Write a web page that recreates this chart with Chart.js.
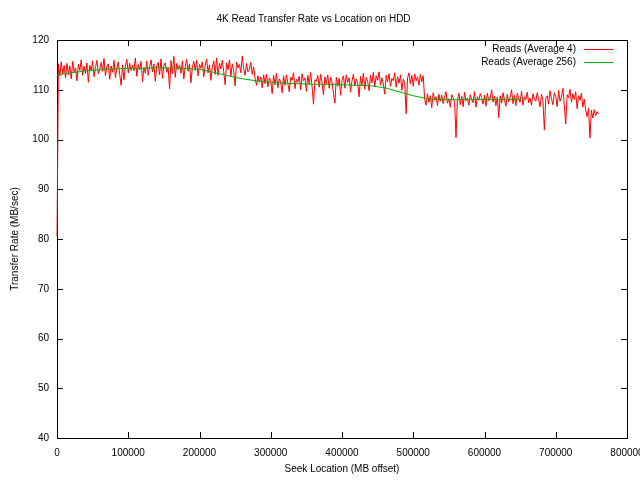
<!DOCTYPE html>
<html>
<head>
<meta charset="utf-8">
<script src="https://cdn.jsdelivr.net/npm/chart.js@4.4.1/dist/chart.umd.min.js"></script>
<style>
html, body { margin: 0; padding: 0; background: #fff; }
</style>
</head>
<body>
<canvas id="myChart" width="640" height="480"></canvas>
<script>
const chartTitle = '4K Read Transfer Rate vs Location on HDD';
const xTitle = 'Seek Location (MB offset)';
const yTitle = 'Transfer Rate (MB/sec)';
const seriesNames = ['Reads (Average 4)', 'Reads (Average 256)'];

// Average 4 samples, one every 2000 MB
const sampleStep = 2000;
const avg4Values = [
    80.5,
    115.2, 112.8, 115.6, 113.1, 114.9, 112.4, 115.3, 113.0, 114.8, 112.2,
    115.7, 113.6, 114.4, 111.8, 115.1, 113.9, 116.0, 112.9, 114.7, 113.3,
    115.4, 111.5, 114.9, 113.8, 115.8, 112.6, 114.5, 115.9, 113.2, 114.1,
    115.5, 113.7, 116.3, 112.8, 114.6, 115.2, 112.1, 114.8, 113.5, 115.9,
    112.4, 114.3, 115.6, 113.1, 110.9, 115.0, 112.0, 114.7, 116.1, 113.4,
    115.3, 113.9, 114.9, 113.8, 116.4, 112.7, 115.1, 114.0, 115.7, 111.6,
    114.5, 113.3, 115.8, 112.9, 114.6, 116.0, 113.6, 115.2, 111.7, 114.8,
    115.5, 113.0, 116.2, 112.3, 114.9, 115.4, 113.5, 114.4, 110.2, 115.9,
    113.2, 116.7, 112.5, 115.3, 114.1, 115.0, 113.3, 115.8, 112.2, 114.7,
    116.1, 113.7, 115.2, 111.4, 114.6, 115.7, 113.9, 116.0, 112.8, 115.1,
    114.3, 115.6, 112.6, 114.9, 116.2, 113.4, 115.0, 111.9, 114.5, 115.8,
    113.1, 116.4, 112.9, 115.3, 114.2, 115.9, 113.6, 111.0, 115.4, 114.0,
    116.0, 112.7, 115.2, 113.8, 110.8, 115.6, 114.4,
    115.1, 113.4, 116.8, 114.2, 112.9, 115.3, 113.6, 114.0, 115.5, 113.1,
    114.6, 112.3, 110.9, 112.8, 111.5, 112.6, 110.4, 113.0,
    111.2, 113.1, 110.6, 112.4, 111.8, 109.2, 112.9, 111.0, 113.3, 110.4,
    112.2, 111.6, 109.4, 112.8, 110.9, 113.0, 111.3, 109.6, 112.5, 111.9,
    113.4, 110.2, 112.1, 111.5, 112.7, 110.0, 113.2, 111.8, 112.4, 109.7,
    112.9, 111.1, 113.5, 110.6, 107.1, 112.0, 111.7, 112.9, 110.5, 113.1,
    111.4, 109.0, 112.6, 111.1, 113.0, 110.3, 112.5, 111.6, 109.3, 107.3,
    112.5, 110.7, 112.3, 108.9, 111.9, 112.8, 110.3, 113.0, 111.5, 112.4,
    109.5, 111.8, 113.1, 110.8, 112.2, 111.3, 108.6, 112.7, 111.0, 113.3,
    110.1, 112.5, 111.7, 109.8, 112.9, 111.4, 113.5, 110.6, 112.8, 111.9,
    113.6, 110.9, 112.4, 111.2, 109.1, 112.9, 111.6, 113.2, 110.7, 112.3,
    111.8, 113.4, 110.5, 112.6, 111.3, 113.0, 109.9, 112.1, 111.5, 105.2,
    112.4, 113.4, 111.2, 112.9, 110.7, 113.2, 111.8, 112.6, 110.9, 113.1,
    111.6, 112.8,
    108.1, 106.9, 109.2, 107.5, 108.8, 106.4, 109.4, 107.9, 108.6, 106.8,
    109.1, 107.7, 108.9, 107.2, 108.5, 109.6, 107.3, 108.2, 106.5, 109.0,
    108.4, 107.6, 100.4, 107.9, 109.3, 107.0, 108.7, 106.6, 109.5, 107.8,
    108.3, 106.9, 109.0, 108.1, 107.4, 109.6, 106.5, 108.6, 107.9, 109.2,
    108.4, 107.1, 108.9, 106.7, 109.3, 107.8, 108.2, 110.0, 107.5, 108.7,
    106.8, 108.5, 104.4, 108.8, 107.3, 109.4, 108.0, 106.7, 109.1, 107.6,
    108.5, 110.0, 107.2, 108.9, 106.8, 109.3, 108.2, 107.5, 109.7, 106.9,
    108.6, 108.0, 109.5, 107.4, 108.3, 106.9, 109.2, 108.1, 107.7, 109.4,
    108.0, 106.6, 109.1, 107.8, 101.9, 108.3, 108.8, 107.1, 109.8, 108.2,
    107.0, 109.4, 108.6, 106.6, 109.9, 107.7, 108.5, 110.3, 106.9, 103.1,
    109.0, 108.4, 110.1, 107.5, 109.2, 108.0, 109.6, 106.2, 108.8, 107.9,
    109.3, 106.5, 108.1, 105.9, 104.6, 106.3,
    100.3, 105.9, 104.3, 106.0, 104.8, 105.6, 105.1
];

// Average 256 curve
const avg256Offsets = [0, 20000, 40000, 60000, 80000, 100000, 120000, 140000, 160000, 180000,
    200000, 220000, 240000, 260000, 280000, 300000, 320000, 340000, 360000, 380000,
    400000, 420000, 440000, 460000, 480000, 500000, 520000, 540000, 560000, 580000,
    600000, 620000, 640000, 652000];
const avg256Values = [113.0, 113.4, 113.8, 114.0, 114.2, 114.3, 114.3, 114.4, 114.4, 114.3,
    114.1, 113.5, 112.8, 112.2, 111.8, 111.5, 111.3, 111.2, 111.1, 111.1,
    111.0, 110.9, 110.8, 110.4, 109.6, 108.8, 108.2, 108.0, 108.0, 108.0,
    108.0, 108.0, 108.0, 108.0];

const xMin = 0, xMax = 800000, xStep = 100000;
const yMin = 40, yMax = 120, yStep = 10;

const FONT = "'Liberation Sans', Arial, sans-serif";
const redColor = '#ff0000';
const greenColor = '#00b000';

const avg4Points = avg4Values.map((v, i) => ({ x: i * sampleStep, y: v }));
const avg256Points = avg256Values.map((v, i) => ({ x: avg256Offsets[i], y: v }));

// frame with inward ticks, like gnuplot
const framePlugin = {
    id: 'frame',
    beforeDatasetsDraw(chart) {
        const { ctx, chartArea: a, scales: { x, y } } = chart;
        ctx.save();
        ctx.strokeStyle = '#000';
        ctx.lineWidth = 1;
        ctx.strokeRect(a.left + 0.5, a.top + 0.5, a.right - a.left, a.bottom - a.top);
        ctx.beginPath();
        x.ticks.forEach(t => {
            const px = Math.round(x.getPixelForValue(t.value)) + 0.5;
            ctx.moveTo(px, a.bottom); ctx.lineTo(px, a.bottom - 6);
            ctx.moveTo(px, a.top); ctx.lineTo(px, a.top + 6);
        });
        y.ticks.forEach(t => {
            const py = Math.round(y.getPixelForValue(t.value)) + 0.5;
            ctx.moveTo(a.left, py); ctx.lineTo(a.left + 6, py);
            ctx.moveTo(a.right, py); ctx.lineTo(a.right - 6, py);
        });
        ctx.stroke();
        ctx.restore();
    },
    afterDraw(chart) {
        // key in the top right corner: text then line sample
        const { ctx, chartArea: a } = chart;
        ctx.save();
        ctx.font = '10px ' + FONT;
        ctx.textAlign = 'right';
        ctx.textBaseline = 'middle';
        chart.data.datasets.forEach((ds, i) => {
            const yy = a.top + 9 + i * 13;
            ctx.fillStyle = '#000';
            ctx.fillText(ds.label, a.right - 51, yy);
            ctx.strokeStyle = ds.borderColor;
            ctx.lineWidth = 1;
            ctx.beginPath();
            ctx.moveTo(a.right - 43, yy + 0.5);
            ctx.lineTo(a.right - 14, yy + 0.5);
            ctx.stroke();
        });
        ctx.restore();
    }
};

const ctx = document.getElementById('myChart').getContext('2d');
const myChart = new Chart(ctx, {
    type: 'line',
    data: {
        datasets: [{
            label: seriesNames[0],
            data: avg4Points,
            borderColor: redColor,
            borderWidth: 1,
            pointRadius: 0,
            tension: 0,
            clip: false,
            order: 2
        }, {
            label: seriesNames[1],
            data: avg256Points,
            borderColor: greenColor,
            borderWidth: 1,
            pointRadius: 0,
            tension: 0,
            order: 1
        }]
    },
    options: {
        responsive: false,
        animation: false,
        devicePixelRatio: 1,
        layout: { autoPadding: false, padding: { top: 0, right: 13, left: 0, bottom: 0 } },
        plugins: {
            legend: { display: false },
            tooltip: { enabled: false },
            title: {
                display: true,
                text: chartTitle,
                color: '#000',
                font: { family: FONT, size: 10, weight: 'normal' },
                padding: { top: 13, bottom: 15 }
            }
        },
        scales: {
            x: {
                type: 'linear',
                min: xMin,
                max: xMax,
                afterFit: s => { s.height = 42; s.paddingLeft = 0; s.paddingRight = 0; },
                grid: { display: false, drawTicks: false },
                border: { display: false },
                ticks: {
                    stepSize: xStep,
                    color: '#000',
                    padding: 9,
                    maxRotation: 0,
                    autoSkip: false,
                    font: { family: FONT, size: 10 },
                    callback: v => String(v)
                },
                title: {
                    display: true,
                    text: xTitle,
                    color: '#000',
                    font: { family: FONT, size: 10 },
                    padding: { top: 0, bottom: 5 }
                }
            },
            y: {
                min: yMin,
                max: yMax,
                afterFit: s => { s.width = 57; },
                grid: { display: false, drawTicks: false },
                border: { display: false },
                ticks: {
                    stepSize: yStep,
                    color: '#000',
                    padding: 8,
                    font: { family: FONT, size: 10 }
                },
                title: {
                    display: true,
                    text: yTitle,
                    color: '#000',
                    font: { family: FONT, size: 10 },
                    padding: { top: 9, bottom: 0 }
                }
            }
        }
    },
    plugins: [framePlugin]
});
</script>
</body>
</html>
